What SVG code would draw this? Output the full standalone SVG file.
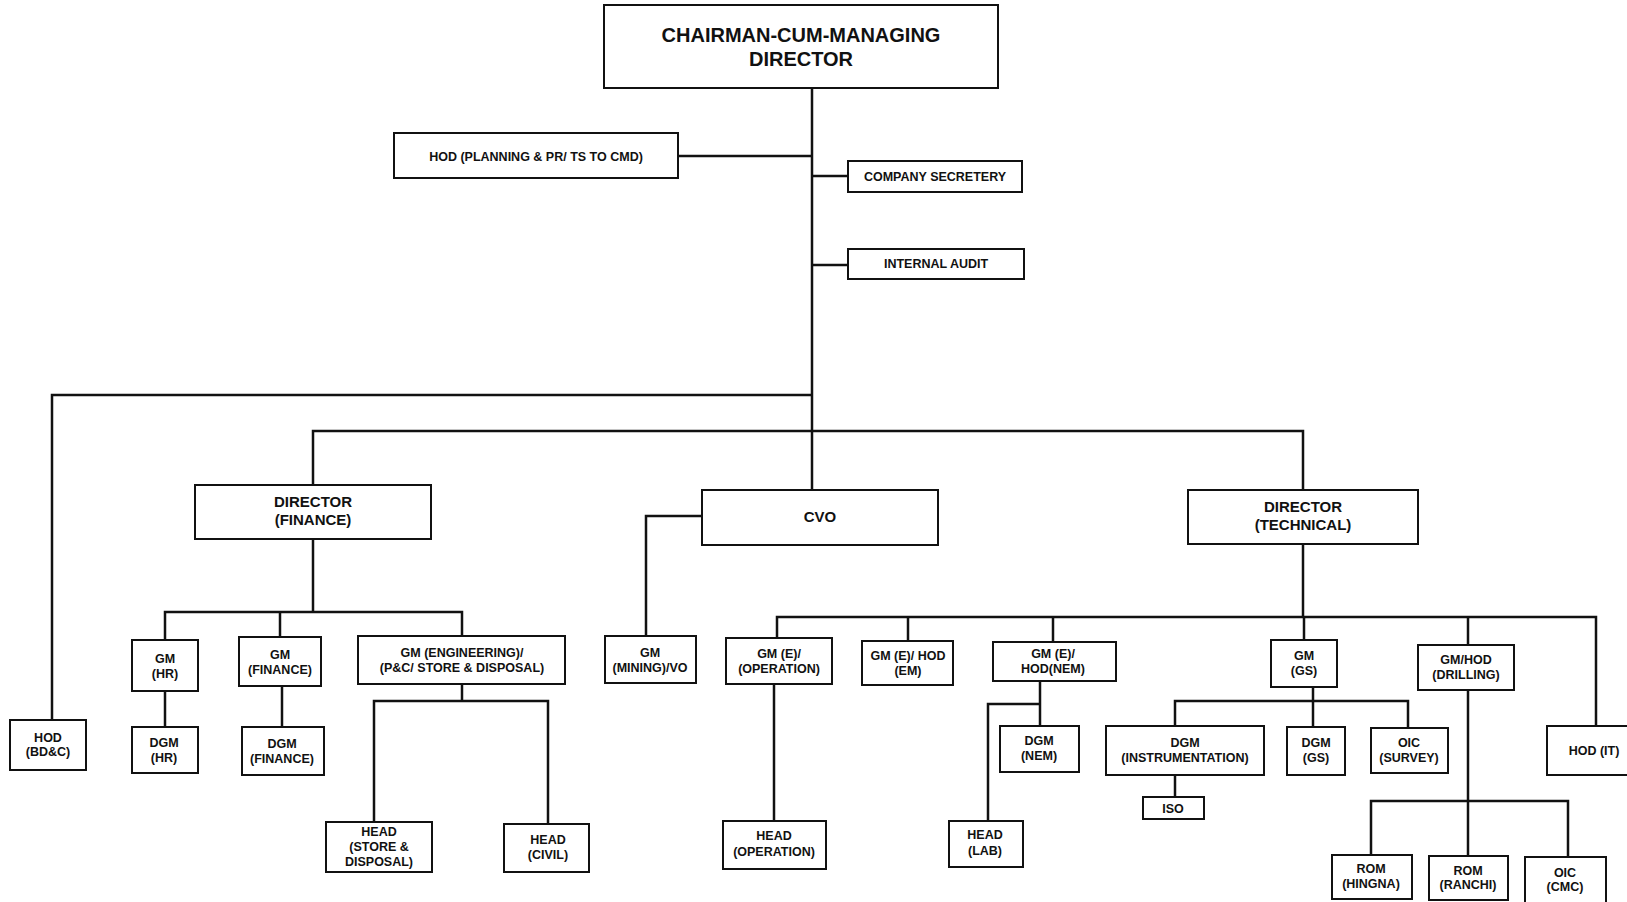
<svg xmlns="http://www.w3.org/2000/svg" width="1627" height="902" viewBox="0 0 1627 902">
<style>
.box{fill:#fff;stroke:#111;stroke-width:2}
.ln{fill:none;stroke:#111;stroke-width:2.5;stroke-linejoin:miter}
text{font-family:"Liberation Sans",Arial,sans-serif;font-weight:bold;fill:#111;text-anchor:middle}
.s{font-size:12.5px}
.m{font-size:15px}
.l{font-size:20px}
</style>
<rect width="1627" height="902" fill="#fff"/>
<g id="connectors">
<path class="ln" d="M812 88V490"/>
<path class="ln" d="M678 156H812"/>
<path class="ln" d="M812 176H848"/>
<path class="ln" d="M812 265H848"/>
<path class="ln" d="M812 395H52V720"/>
<path class="ln" d="M313 485V431H1303V490"/>
<path class="ln" d="M313 539V612"/>
<path class="ln" d="M165 640V612H462V636"/>
<path class="ln" d="M280 612V637"/>
<path class="ln" d="M165 691V727"/>
<path class="ln" d="M282 686V727"/>
<path class="ln" d="M462 684V701"/>
<path class="ln" d="M374 822V701H548V824"/>
<path class="ln" d="M702 516H646V636"/>
<path class="ln" d="M1303 544V617"/>
<path class="ln" d="M777 638V617H1596V726"/>
<path class="ln" d="M908 617V641"/>
<path class="ln" d="M1053 617V642"/>
<path class="ln" d="M1304 617V640"/>
<path class="ln" d="M1468 617V645"/>
<path class="ln" d="M774 684V821"/>
<path class="ln" d="M1040 681V726"/>
<path class="ln" d="M1040 704H988V821"/>
<path class="ln" d="M1313 687V727"/>
<path class="ln" d="M1175 726V701H1408V728"/>
<path class="ln" d="M1175 775V797"/>
<path class="ln" d="M1468 690V856"/>
<path class="ln" d="M1371 855V801H1568V857"/>
</g>
<g id="cmd"><rect class="box" x="604" y="5" width="394" height="83"/><text class="l" x="801" y="42">CHAIRMAN-CUM-MANAGING</text><text class="l" x="801" y="66">DIRECTOR</text></g>
<g id="hod_planning"><rect class="box" x="394" y="133" width="284" height="45"/><text class="s" x="536" y="160.5">HOD (PLANNING &amp; PR/ TS TO CMD)</text></g>
<g id="company_secretery"><rect class="box" x="848" y="161" width="174" height="31"/><text class="s" x="935" y="181">COMPANY SECRETERY</text></g>
<g id="internal_audit"><rect class="box" x="848" y="249" width="176" height="30"/><text class="s" x="936" y="268">INTERNAL AUDIT</text></g>
<g id="hod_bdc"><rect class="box" x="10" y="720" width="76" height="50"/><text class="s" x="48" y="742">HOD</text><text class="s" x="48" y="756">(BD&amp;C)</text></g>
<g id="director_finance"><rect class="box" x="195" y="485" width="236" height="54"/><text class="m" x="313" y="507">DIRECTOR</text><text class="m" x="313" y="525">(FINANCE)</text></g>
<g id="cvo"><rect class="box" x="702" y="490" width="236" height="55"/><text class="m" x="820" y="522">CVO</text></g>
<g id="director_technical"><rect class="box" x="1188" y="490" width="230" height="54"/><text class="m" x="1303" y="512">DIRECTOR</text><text class="m" x="1303" y="530">(TECHNICAL)</text></g>
<g id="gm_hr"><rect class="box" x="132" y="640" width="66" height="51"/><text class="s" x="165" y="663">GM</text><text class="s" x="165" y="677.5">(HR)</text></g>
<g id="gm_finance"><rect class="box" x="239" y="637" width="82" height="49"/><text class="s" x="280" y="659">GM</text><text class="s" x="280" y="673.5">(FINANCE)</text></g>
<g id="gm_engineering"><rect class="box" x="358" y="636" width="207" height="48"/><text class="s" x="462" y="657">GM (ENGINEERING)/</text><text class="s" x="462" y="671.5">(P&amp;C/ STORE &amp; DISPOSAL)</text></g>
<g id="dgm_hr"><rect class="box" x="132" y="727" width="66" height="46"/><text class="s" x="164" y="747">DGM</text><text class="s" x="164" y="761.5">(HR)</text></g>
<g id="dgm_finance"><rect class="box" x="242" y="727" width="82" height="48"/><text class="s" x="282" y="748">DGM</text><text class="s" x="282" y="762.5">(FINANCE)</text></g>
<g id="head_store"><rect class="box" x="326" y="822" width="106" height="50"/><text class="s" x="379" y="836">HEAD</text><text class="s" x="379" y="851">(STORE &amp;</text><text class="s" x="379" y="865.5">DISPOSAL)</text></g>
<g id="head_civil"><rect class="box" x="504" y="824" width="85" height="48"/><text class="s" x="548" y="844">HEAD</text><text class="s" x="548" y="859">(CIVIL)</text></g>
<g id="gm_mining"><rect class="box" x="605" y="636" width="91" height="47"/><text class="s" x="650" y="657">GM</text><text class="s" x="650" y="671.5">(MINING)/VO</text></g>
<g id="gm_e_operation"><rect class="box" x="726" y="638" width="106" height="46"/><text class="s" x="779" y="658">GM (E)/</text><text class="s" x="779" y="672.5">(OPERATION)</text></g>
<g id="gm_e_em"><rect class="box" x="862" y="641" width="91" height="44"/><text class="s" x="908" y="660">GM (E)/ HOD</text><text class="s" x="908" y="674.5">(EM)</text></g>
<g id="gm_e_nem"><rect class="box" x="993" y="642" width="123" height="39"/><text class="s" x="1053" y="658">GM (E)/</text><text class="s" x="1053" y="672.5">HOD(NEM)</text></g>
<g id="dgm_nem"><rect class="box" x="1000" y="726" width="79" height="46"/><text class="s" x="1039" y="745">DGM</text><text class="s" x="1039" y="759.5">(NEM)</text></g>
<g id="head_lab"><rect class="box" x="949" y="821" width="74" height="46"/><text class="s" x="985" y="839">HEAD</text><text class="s" x="985" y="855">(LAB)</text></g>
<g id="head_operation"><rect class="box" x="723" y="821" width="103" height="48"/><text class="s" x="774" y="840">HEAD</text><text class="s" x="774" y="856">(OPERATION)</text></g>
<g id="gm_gs"><rect class="box" x="1271" y="640" width="66" height="47"/><text class="s" x="1304" y="660">GM</text><text class="s" x="1304" y="674.5">(GS)</text></g>
<g id="gm_hod_drilling"><rect class="box" x="1418" y="645" width="96" height="45"/><text class="s" x="1466" y="664">GM/HOD</text><text class="s" x="1466" y="678.5">(DRILLING)</text></g>
<g id="dgm_instrumentation"><rect class="box" x="1106" y="726" width="158" height="49"/><text class="s" x="1185" y="747">DGM</text><text class="s" x="1185" y="761.5">(INSTRUMENTATION)</text></g>
<g id="dgm_gs"><rect class="box" x="1287" y="727" width="58" height="48"/><text class="s" x="1316" y="747">DGM</text><text class="s" x="1316" y="761.5">(GS)</text></g>
<g id="oic_survey"><rect class="box" x="1371" y="728" width="77" height="45"/><text class="s" x="1409" y="747">OIC</text><text class="s" x="1409" y="761.5">(SURVEY)</text></g>
<g id="iso"><rect class="box" x="1143" y="797" width="61" height="22"/><text class="s" x="1173" y="812.5">ISO</text></g>
<g id="hod_it"><rect class="box" x="1547" y="726" width="86" height="49"/><text class="s" x="1594" y="755">HOD (IT)</text></g>
<g id="rom_hingna"><rect class="box" x="1332" y="855" width="80" height="44"/><text class="s" x="1371" y="873">ROM</text><text class="s" x="1371" y="888">(HINGNA)</text></g>
<g id="rom_ranchi"><rect class="box" x="1429" y="856" width="79" height="44"/><text class="s" x="1468" y="875">ROM</text><text class="s" x="1468" y="889">(RANCHI)</text></g>
<g id="oic_cmc"><rect class="box" x="1525" y="857" width="81" height="47"/><text class="s" x="1565" y="877">OIC</text><text class="s" x="1565" y="891">(CMC)</text></g>
</svg>
